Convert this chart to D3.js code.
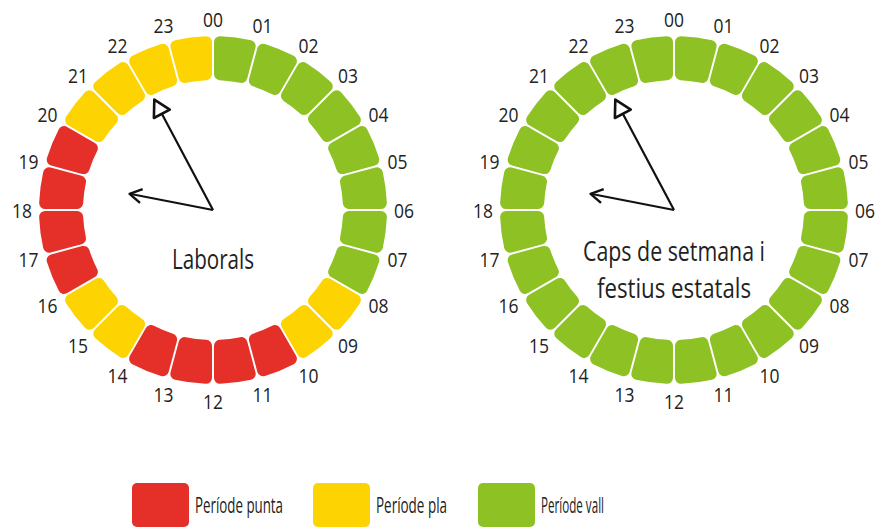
<!DOCTYPE html>
<html>
<head>
<meta charset="utf-8">
<script src="https://cdn.jsdelivr.net/npm/d3@7"></script>
<style>
  html, body { margin: 0; padding: 0; background: #fff; }
  svg { display: block; }
  text { font-family: "Open Sans", "DejaVu Sans", sans-serif; fill: #222; }
</style>
</head>
<body>
<svg id="chart" width="879" height="529"></svg>
<script>
// ---- data ----
const hourLabels = ["00","01","02","03","04","05","06","07","08","09","10","11",
                    "12","13","14","15","16","17","18","19","20","21","22","23"];
const weekdayPeriods = ["vall","vall","vall","vall","vall","vall","vall","vall",
                        "pla","pla","punta","punta","punta","punta","pla","pla",
                        "punta","punta","punta","punta","pla","pla","pla","pla"];
const weekendPeriods = ["vall","vall","vall","vall","vall","vall","vall","vall",
                        "vall","vall","vall","vall","vall","vall","vall","vall",
                        "vall","vall","vall","vall","vall","vall","vall","vall"];
const periodKeys = ["punta","pla","vall"];
const periodColors = ["#E52F29","#FDD402","#8DC124"];
const legendLabels = ["Període punta","Període pla","Període vall"];
const clockTitles = [["Laborals"], ["Caps de setmana i","festius estatals"]];

// ---- drawing ----
const svg = d3.select("#chart");
const color = d3.scaleOrdinal().domain(periodKeys).range(periodColors);
const angle = d3.scaleLinear().domain([0, 24]).range([0, 2 * Math.PI]);

const innerR = 130, outerR = 174, labelR = 191;
const arc = d3.arc()
  .innerRadius(innerR).outerRadius(outerR)
  .startAngle(d => angle(d.i)).endAngle(d => angle(d.i + 1))
  .padAngle(0.009).cornerRadius(6);

const clocks = [
  { cx: 213, cy: 210, periods: weekdayPeriods, title: clockTitles[0], titleY: [258], titleW: [82] },
  { cx: 674, cy: 210, periods: weekendPeriods, title: clockTitles[1], titleY: [250, 287], titleW: [182, 154] }
];

clocks.forEach(c => {
  const g = svg.append("g").attr("transform", `translate(${c.cx},${c.cy})`);
  g.selectAll("path.seg")
    .data(c.periods.map((p, i) => ({ p, i })))
    .join("path").attr("class", "seg")
    .attr("d", arc)
    .attr("fill", d => color(d.p));

  g.selectAll("text.hour")
    .data(hourLabels)
    .join("text").attr("class", "hour")
    .attr("x", (d, i) => labelR * Math.sin(angle(i)))
    .attr("y", (d, i) => -labelR * Math.cos(angle(i)))
    .attr("text-anchor", "middle")
    .attr("dominant-baseline", "central")
    .attr("font-size", 19)
    .attr("transform", (d, i) => {
      const x = labelR * Math.sin(angle(i)), y = -labelR * Math.cos(angle(i));
      return `translate(${x},${y}) scale(0.92,1.05) translate(${-x},${-y})`;
    })
    .text(d => d);

  // long hand with open triangular head
  const la = 332 * Math.PI / 180, llen = 125;
  const ux = Math.sin(la), uy = -Math.cos(la);
  const px = -uy, py = ux;
  const tip = [llen * ux, llen * uy];
  const base = [(llen - 16) * ux, (llen - 16) * uy];
  g.append("line").attr("x1", 0).attr("y1", 0).attr("x2", base[0]).attr("y2", base[1])
    .attr("stroke", "#111").attr("stroke-width", 2.2);
  g.append("path")
    .attr("d", `M${tip[0]},${tip[1]} L${base[0] + 9 * px},${base[1] + 9 * py} L${base[0] - 9 * px},${base[1] - 9 * py} Z`)
    .attr("fill", "#fff").attr("stroke", "#111").attr("stroke-width", 2.6).attr("stroke-linejoin", "round");
  // short hand with open V head
  const sa = 281 * Math.PI / 180, slen = 85;
  const sx = Math.sin(sa), sy = -Math.cos(sa);
  const qx = -sy, qy = sx;
  const st = [slen * sx, slen * sy];
  const sb = [(slen - 12) * sx, (slen - 12) * sy];
  g.append("line").attr("x1", 0).attr("y1", 0).attr("x2", st[0]).attr("y2", st[1])
    .attr("stroke", "#111").attr("stroke-width", 2);
  g.append("path")
    .attr("d", `M${sb[0] + 7 * qx},${sb[1] + 7 * qy} L${st[0]},${st[1]} L${sb[0] - 7 * qx},${sb[1] - 7 * qy}`)
    .attr("fill", "none").attr("stroke", "#111").attr("stroke-width", 2.4).attr("stroke-linejoin", "round");

  c.title.forEach((t, k) => {
    svg.append("text")
      .attr("x", c.cx).attr("y", c.titleY[k])
      .attr("text-anchor", "middle").attr("dominant-baseline", "central")
      .attr("font-size", 27)
      .attr("textLength", c.titleW[k]).attr("lengthAdjust", "spacingAndGlyphs")
      .text(t);
  });
});

// legend
const legendX = [132, 313, 478];
const legendTextW = [88, 71, 63];
const lg = svg.selectAll("g.legend")
  .data(periodKeys)
  .join("g").attr("class", "legend")
  .attr("transform", (d, i) => `translate(${legendX[i]},483)`);
lg.append("rect")
  .attr("width", 57).attr("height", 44).attr("rx", 5)
  .attr("fill", d => color(d));
lg.append("text")
  .attr("x", 63).attr("y", 21)
  .attr("dominant-baseline", "central")
  .attr("font-size", 22)
  .attr("textLength", (d, i) => legendTextW[i]).attr("lengthAdjust", "spacingAndGlyphs")
  .text((d, i) => legendLabels[i]);
</script>
</body>
</html>
